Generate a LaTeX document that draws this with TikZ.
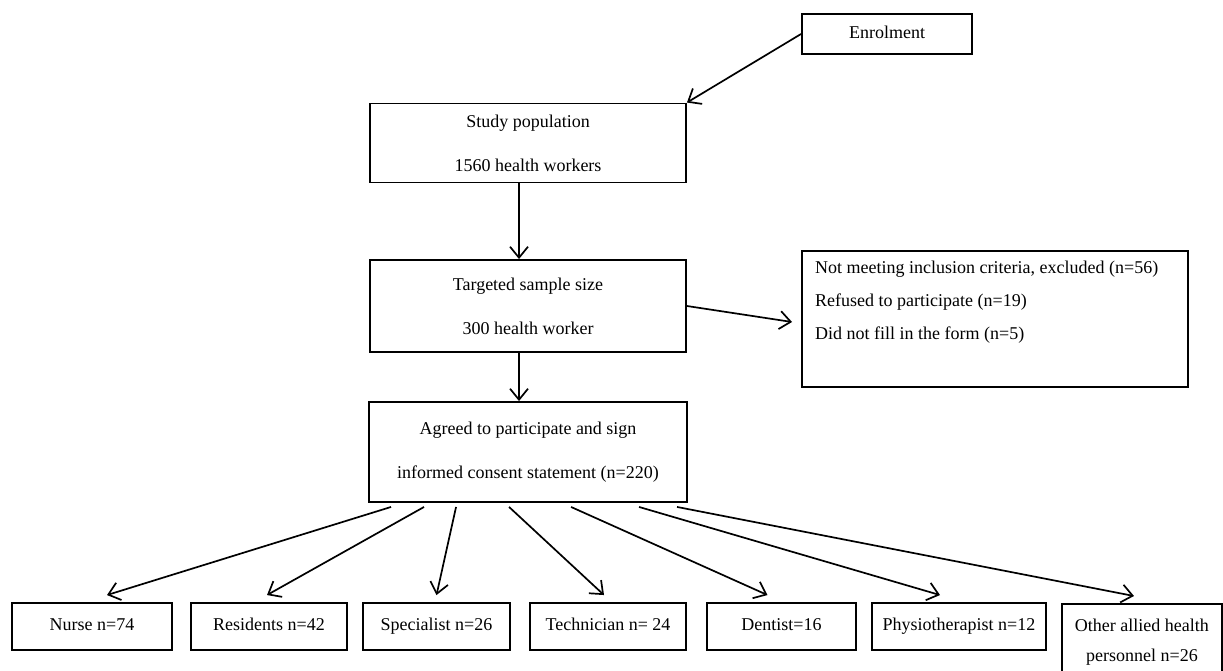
\documentclass[tikz,border=0pt]{standalone}
\usepackage{fontspec}
\setmainfont{Liberation Serif}
\usetikzlibrary{arrows.meta}
\begin{document}
\begin{tikzpicture}[x=1pt,y=-1pt,
  box/.style={draw=black, line width=1.9pt, inner sep=0pt, align=center,
    font=\fontsize{18}{44}\selectfont},
  cat/.style={box, minimum height=47pt, text height=12.5pt, text depth=4pt},
  conn/.style={line width=1.7pt, -{Straight Barb[length=11pt,width=18pt,line width=1.7pt]}},
  txt/.style={inner sep=0pt, align=left, font=\fontsize{18}{33}\selectfont}]
\useasboundingbox (0,0) rectangle (1223,671);
\fill[white] (0,0) rectangle (1223,671);

\node[box, minimum width=170pt, minimum height=40pt, text height=12.5pt, text depth=4pt] (enrol) at (887,34) {Enrolment};
\node[box, minimum width=316pt, minimum height=79pt] (study) at (528,143) {Study population\\1560 health workers};
\node[box, minimum width=316pt, minimum height=92pt] (target) at (528,306) {Targeted sample size\\300 health worker};
\node[box, minimum width=386pt, minimum height=136pt] (excl) at (995,319) {};
\node[txt, anchor=west] (excltext) at (815,302) {Not meeting inclusion criteria, excluded (n=56)\\Refused to participate (n=19)\\Did not fill in the form (n=5)};
\node[box, minimum width=318pt, minimum height=100pt] (agreed) at (528,452) {Agreed to participate and sign\\informed consent statement (n=220)};

\node[cat, minimum width=160pt] (nurse) at (92,626.5) {Nurse n=74};
\node[cat, minimum width=156pt] (resid) at (269,626.5) {Residents n=42};
\node[cat, minimum width=147pt] (spec) at (436.5,626.5) {Specialist n=26};
\node[cat, minimum width=156pt] (tech) at (608,626.5) {Technician n= 24};
\node[cat, minimum width=149pt] (dent) at (781.5,626.5) {Dentist=16};
\node[cat, minimum width=174pt] (physio) at (959,626.5) {Physiotherapist n=12};
\node[box, minimum width=160pt, minimum height=76pt, font=\fontsize{18}{30}\selectfont, anchor=north west] (other) at (1061,603) {Other allied health\\personnel n=26};

\draw[conn] (enrol.west) -- (study.north east);
\draw[conn] ([xshift=-9pt]study.south) -- ([xshift=-9pt]target.north);
\draw[conn] (target.east) -- ([shift={(-9,3)}]excl.west);
\draw[conn] ([xshift=-9pt]target.south) -- ([xshift=-9pt]agreed.north);

\draw[conn] ([shift={(23,4)}]agreed.south west) -- ([shift={(15,-7)}]nurse.north);
\draw[conn] ([shift={(56,4)}]agreed.south west) -- ([shift={(-2,-7)}]resid.north);
\draw[conn] ([shift={(88,4)}]agreed.south west) -- ([shift={(0,-7)}]spec.north);
\draw[conn] ([shift={(141,4)}]agreed.south west) -- ([shift={(-4,-7)}]tech.north);
\draw[conn] ([shift={(203,4)}]agreed.south west) -- ([shift={(-14,-7)}]dent.north);
\draw[conn] ([shift={(271,4)}]agreed.south west) -- ([shift={(-19,-7)}]physio.north);
\draw[conn] ([shift={(309,4)}]agreed.south west) -- ([shift={(-8,-7)}]other.north);
\end{tikzpicture}
\end{document}
